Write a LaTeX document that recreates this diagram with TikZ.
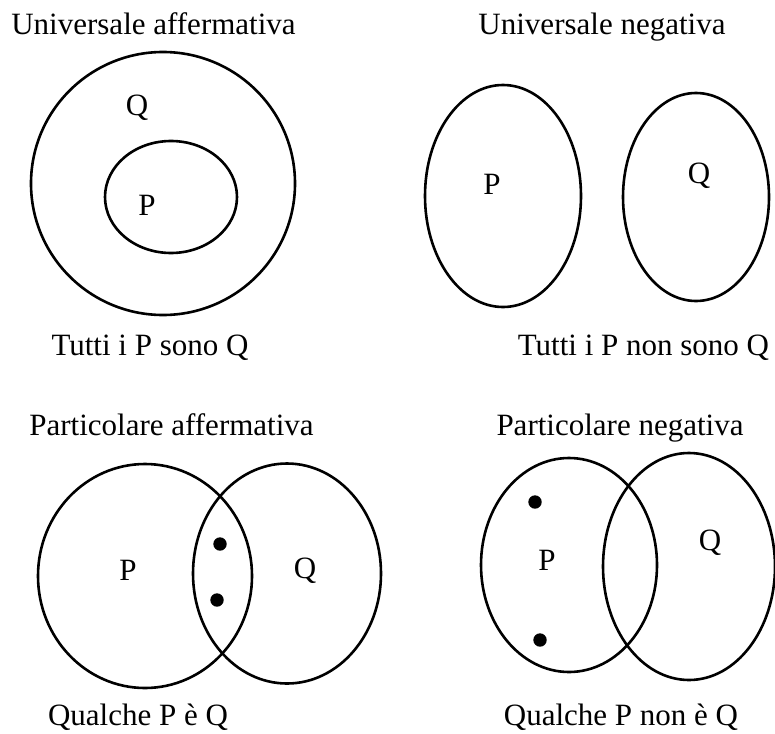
\documentclass[tikz,border=0pt]{standalone}
\usepackage{fontspec}
\setmainfont{Liberation Serif}
\usetikzlibrary{positioning}

\begin{document}
\begin{tikzpicture}[
  x=1pt, y=-1pt,
  font=\fontsize{31}{37}\selectfont,
  set/.style={draw=black, line width=2.6pt},
  lbl/.style={anchor=base, inner sep=0pt},
  dot/.style={circle, fill=black, inner sep=0pt, minimum size=13.4pt},
]
  \useasboundingbox (0,0) rectangle (775,733);

  % universale affermativa
  \node[lbl] (ua) at (153.5,35) {Universale affermativa};
  \draw[set] (163,183.5) ellipse [x radius=132pt, y radius=131.5pt];
  \draw[set] (171,197) ellipse [x radius=66pt, y radius=56pt];
  \node[lbl] (uaQ) at (137,115) {Q};
  \node[lbl] (uaP) at (147,215) {P};
  \node[lbl] (uat) at (150,355) {Tutti i P sono Q};

  % universale negativa
  \node[lbl] (un) at (602,35) {Universale negativa};
  \draw[set] (503,196) ellipse [x radius=78pt, y radius=111pt];
  \draw[set] (696,197) ellipse [x radius=73pt, y radius=104pt];
  \node[lbl] (unP) at (492,194) {P};
  \node[lbl] (unQ) at (699,183) {Q};
  \node[lbl] (unt) at (643.5,355) {Tutti i P non sono Q};

  % particolare affermativa
  \node[lbl] (pa) at (171.5,435) {Particolare affermativa};
  \draw[set] (145,576) ellipse [x radius=107pt, y radius=112pt];
  \draw[set] (287,573.5) ellipse [x radius=94pt, y radius=110pt];
  \node[lbl] (paP) at (128,580) {P};
  \node[lbl] (paQ) at (305,578) {Q};
  \node[dot] (pa1) at (220,544) {};
  \node[dot] (pa2) at (217,600) {};
  \node[lbl] (pat) at (138,725) {Qualche P è Q};

  % particolare negativa
  \node[lbl] (pn) at (620,435) {Particolare negativa};
  \draw[set] (569,565) ellipse [x radius=88pt, y radius=107pt];
  \draw[set] (689,566.5) ellipse [x radius=86pt, y radius=113.5pt];
  \node[lbl] (pnP) at (547,570) {P};
  \node[lbl] (pnQ) at (710,550) {Q};
  \node[dot] (pn1) at (535,502) {};
  \node[dot] (pn2) at (540,640) {};
  \node[lbl] (pnt) at (621,725) {Qualche P non è Q};
\end{tikzpicture}
\end{document}
